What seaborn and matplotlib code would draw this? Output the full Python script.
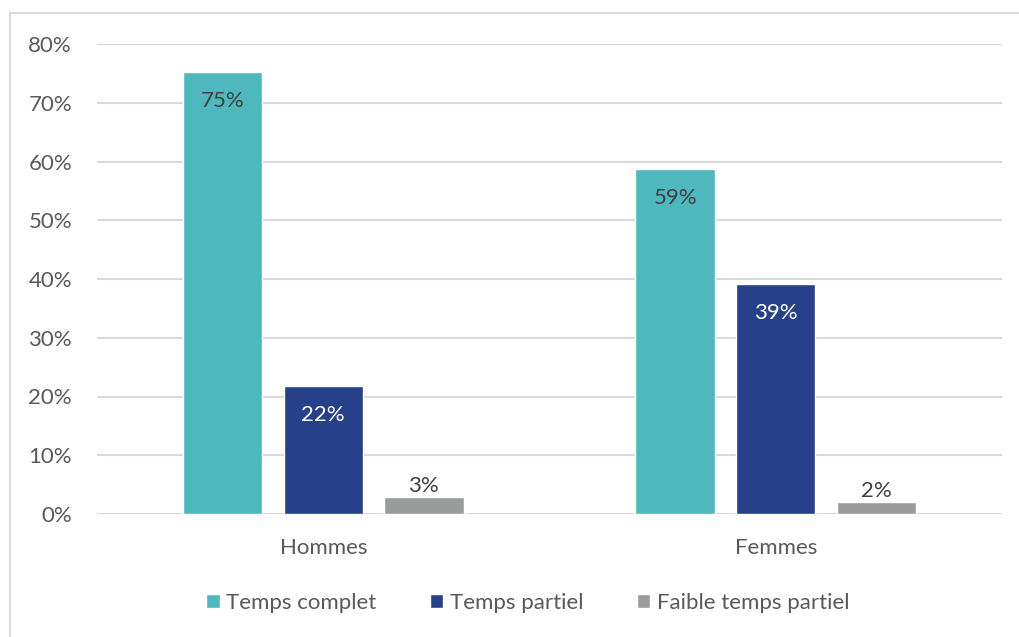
import pandas as pd
import matplotlib.pyplot as plt
import seaborn as sns
from matplotlib.lines import Line2D
from matplotlib.patches import Patch

# Data
groupes = ['Hommes', 'Femmes']
series = ['Temps complet', 'Temps partiel', 'Faible temps partiel']
temps_complet = [0.752, 0.587]
temps_partiel = [0.218, 0.391]
faible_partiel = [0.029, 0.021]
labels = {
    'Temps complet': ['75%', '59%'],
    'Temps partiel': ['22%', '39%'],
    'Faible temps partiel': ['3%', '2%'],
}
couleurs = ['#4EB8BE', '#26408A', '#9A9C9C']
label_colors = ['#404040', 'white', '#404040']

df = pd.DataFrame({
    'Groupe': groupes * 3,
    'Serie': [s for s in series for _ in groupes],
    'Valeur': temps_complet + temps_partiel + faible_partiel,
})

sns.set_style('white')
plt.rcParams['font.family'] = ['Lato', 'DejaVu Sans']
text_color = '#595959'
fs = 16

fig = plt.figure(figsize=(10.19, 6.37), dpi=100)
ax = fig.add_axes([97 / 1019, 1 - 514 / 637, (1002 - 97) / 1019, 470 / 637])

sns.barplot(data=df, x='Groupe', y='Valeur', hue='Serie', order=groupes,
            hue_order=series, palette=couleurs, width=0.667, gap=0.21,
            ax=ax, legend=False, saturation=1)

ax.set_ylim(0, 0.8)
ax.set_yticks([i / 10 for i in range(9)])
ax.set_yticklabels([f'{i * 10}%' for i in range(9)])
ax.yaxis.grid(True, color='#d9d9d9', linewidth=1.5)
ax.set_axisbelow(True)
for s in ax.spines.values():
    s.set_visible(False)
ax.tick_params(axis='y', length=0, pad=18, labelsize=fs, labelcolor=text_color)
ax.tick_params(axis='x', length=0, pad=17, labelsize=fs, labelcolor=text_color)
ax.set_xlabel('')
ax.set_ylabel('')

# data labels
for cont, serie, lc in zip(ax.containers, series, label_colors):
    for bar, txt in zip(cont.patches, labels[serie]):
        x = bar.get_x() + bar.get_width() / 2
        h = bar.get_height()
        if serie == 'Faible temps partiel':
            ax.annotate(txt, (x, h), xytext=(0, 8), textcoords='offset points',
                        ha='center', va='center', fontsize=fs, color=lc)
        else:
            ax.annotate(txt, (x, h), xytext=(0, -21), textcoords='offset points',
                        ha='center', va='center', fontsize=fs, color=lc)

handles = [Patch(facecolor=c, label=s) for c, s in zip(couleurs, series)]
fig.legend(handles=handles, loc='center', bbox_to_anchor=(0.518, 0.053), ncol=3,
           frameon=False, fontsize=fs, labelcolor=text_color, handlelength=0.6,
           handleheight=0.6, handletextpad=0.3, columnspacing=2.4)

# outer frame (top and left edges)
fig.add_artist(Line2D([10 / 1019, 1], [1 - 13 / 637] * 2, color='#d9d9d9', lw=1.5,
                      transform=fig.transFigure))
fig.add_artist(Line2D([10 / 1019] * 2, [0, 1 - 13 / 637], color='#d9d9d9', lw=1.5,
                      transform=fig.transFigure))

fig.savefig('out.png', dpi=100)
